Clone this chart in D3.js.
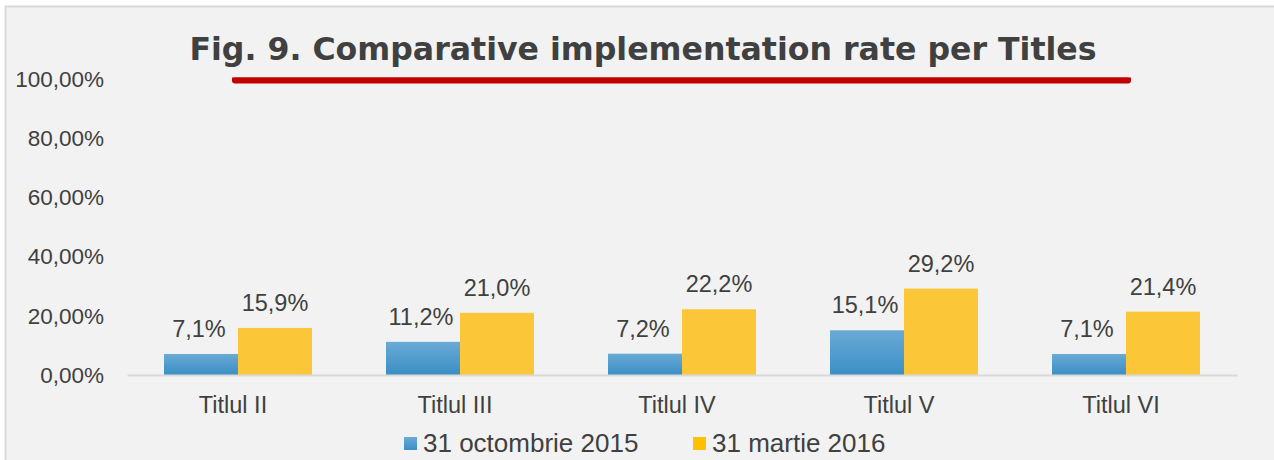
<!DOCTYPE html>
<html>
<head>
<meta charset="utf-8">
<script src="https://cdn.jsdelivr.net/npm/d3@7"></script>
<style>
	body { margin: 0; background: #fff; }
	svg { display: block; }
</style>
</head>
<body>
<div id="chart"></div>
<script>
(function(){
	var categories = ["Titlul II", "Titlul III", "Titlul IV", "Titlul V", "Titlul VI"];
	var seriesNames = ["31 octombrie 2015", "31 martie 2016"];
	var oct2015 = [7.1, 11.2, 7.2, 15.1, 7.1];
	var mar2016 = [15.9, 21.0, 22.2, 29.2, 21.4];
	var yTicks = [0, 20, 40, 60, 80, 100];

	var width = 1274, height = 460;
	var margin = { top: 79, right: 37, bottom: 85, left: 127 };
	var font = "Liberation Sans, Arial, sans-serif";

	var svg = d3.select("#chart")
		.append("svg")
		.attr("width", width)
		.attr("height", height);

	var defs = svg.append("defs");
	var grad = defs.append("linearGradient")
		.attr("id", "blueGrad")
		.attr("x1", 0).attr("y1", 0).attr("x2", 0).attr("y2", 1);
	grad.append("stop").attr("offset", "0%").attr("stop-color", "#6aaad6");
	grad.append("stop").attr("offset", "100%").attr("stop-color", "#3a8fc4");

	// chart background + border
	svg.append("rect")
		.attr("x", 5.5).attr("y", 6.5)
		.attr("width", width).attr("height", height)
		.attr("fill", "#f2f2f2")
		.attr("stroke", "#d9d9d9")
		.attr("stroke-width", 2);

	var x0 = d3.scaleBand()
		.domain(categories)
		.range([margin.left, width - margin.right]);

	var x1 = d3.scaleBand()
		.domain([0, 1])
		.range([0, x0.bandwidth()])
		.paddingOuter(0.5);

	var y = d3.scaleLinear()
		.domain([0, 100])
		.range([height - margin.bottom, margin.top]);

	var fmtAxis = function(d){ return d3.format(".2f")(d).replace(".", ",") + "%"; };
	var fmtLabel = function(d){ return d3.format(".1f")(d).replace(".", ",") + "%"; };

	// y axis labels
	var yAxis = d3.axisLeft(y)
		.tickValues(yTicks)
		.tickSize(0)
		.tickPadding(0)
		.tickFormat(fmtAxis);

	var yg = svg.append("g")
		.attr("transform", "translate(104,0)")
		.call(yAxis);
	yg.select(".domain").remove();
	yg.selectAll("text")
		.attr("font-family", font)
		.attr("font-size", 22.5)
		.attr("fill", "#404040");

	// bars
	var rows = categories.map(function(c, i){ return { cat: c, vals: [oct2015[i], mar2016[i]] }; });
	var colors = ["url(#blueGrad)", "#fbc738"];

	var groups = svg.selectAll(".grp")
		.data(rows)
		.enter().append("g")
		.attr("class", "grp")
		.attr("transform", function(d){ return "translate(" + x0(d.cat) + ",0)"; });

	groups.selectAll("rect")
		.data(function(d){ return d.vals.map(function(v, j){ return { v: v, j: j }; }); })
		.enter().append("rect")
		.attr("x", function(d){ return x1(d.j); })
		.attr("y", function(d){ return y(d.v); })
		.attr("width", x1.bandwidth())
		.attr("height", function(d){ return y(0) - y(d.v); })
		.attr("fill", function(d){ return colors[d.j]; });

	groups.selectAll("text.lbl")
		.data(function(d){ return d.vals.map(function(v, j){ return { v: v, j: j }; }); })
		.enter().append("text")
		.attr("class", "lbl")
		.attr("x", function(d){ return x1(d.j) + x1.bandwidth() / 2 - (d.j === 0 ? 2 : 0); })
		.attr("y", function(d){ return y(d.v) - 17; })
		.attr("text-anchor", "middle")
		.attr("font-family", font)
		.attr("font-size", 23.5)
		.attr("fill", "#404040")
		.text(function(d){ return fmtLabel(d.v); });

	// x axis
	var xAxis = d3.axisBottom(x0).tickSize(0).tickPadding(0);
	var xg = svg.append("g")
		.attr("transform", "translate(0," + y(0) + ")")
		.call(xAxis);
	xg.select(".domain")
		.attr("stroke", "#d9d9d9")
		.attr("stroke-width", 2);
	xg.selectAll("text")
		.attr("dy", 0)
		.attr("y", 38)
		.attr("x", -5)
		.attr("font-family", font)
		.attr("font-size", 23.5)
		.attr("fill", "#404040");

	// title
	svg.append("text")
		.attr("x", 643)
		.attr("y", 60)
		.attr("text-anchor", "middle")
		.attr("font-family", "DejaVu Sans, Verdana, sans-serif")
		.attr("font-weight", "bold")
		.attr("font-size", 31.6)
		.attr("fill", "#404040")
		.text("Fig. 9. Comparative implementation rate per Titles");

	svg.append("rect")
		.attr("x", 232).attr("y", 77.5)
		.attr("width", 899).attr("height", 6)
		.attr("rx", 3)
		.attr("fill", "#c00000");
	svg.append("rect")
		.attr("x", 232).attr("y", 77.5)
		.attr("width", 899).attr("height", 3)
		.attr("fill", "#c00000");

	// legend
	var legendX = [404, 693];
	var legColors = ["url(#blueGrad)", "#ffc000"];
	var leg = svg.selectAll(".leg")
		.data(seriesNames)
		.enter().append("g")
		.attr("class", "leg")
		.attr("transform", function(d, i){ return "translate(" + legendX[i] + ",437)"; });
	leg.append("rect")
		.attr("width", 13).attr("height", 13)
		.attr("fill", function(d, i){ return legColors[i]; });
	leg.append("text")
		.attr("x", 19)
		.attr("y", 15)
		.attr("font-family", font)
		.attr("font-size", 26)
		.attr("fill", "#404040")
		.text(function(d){ return d; });
})();
</script>
</body>
</html>
